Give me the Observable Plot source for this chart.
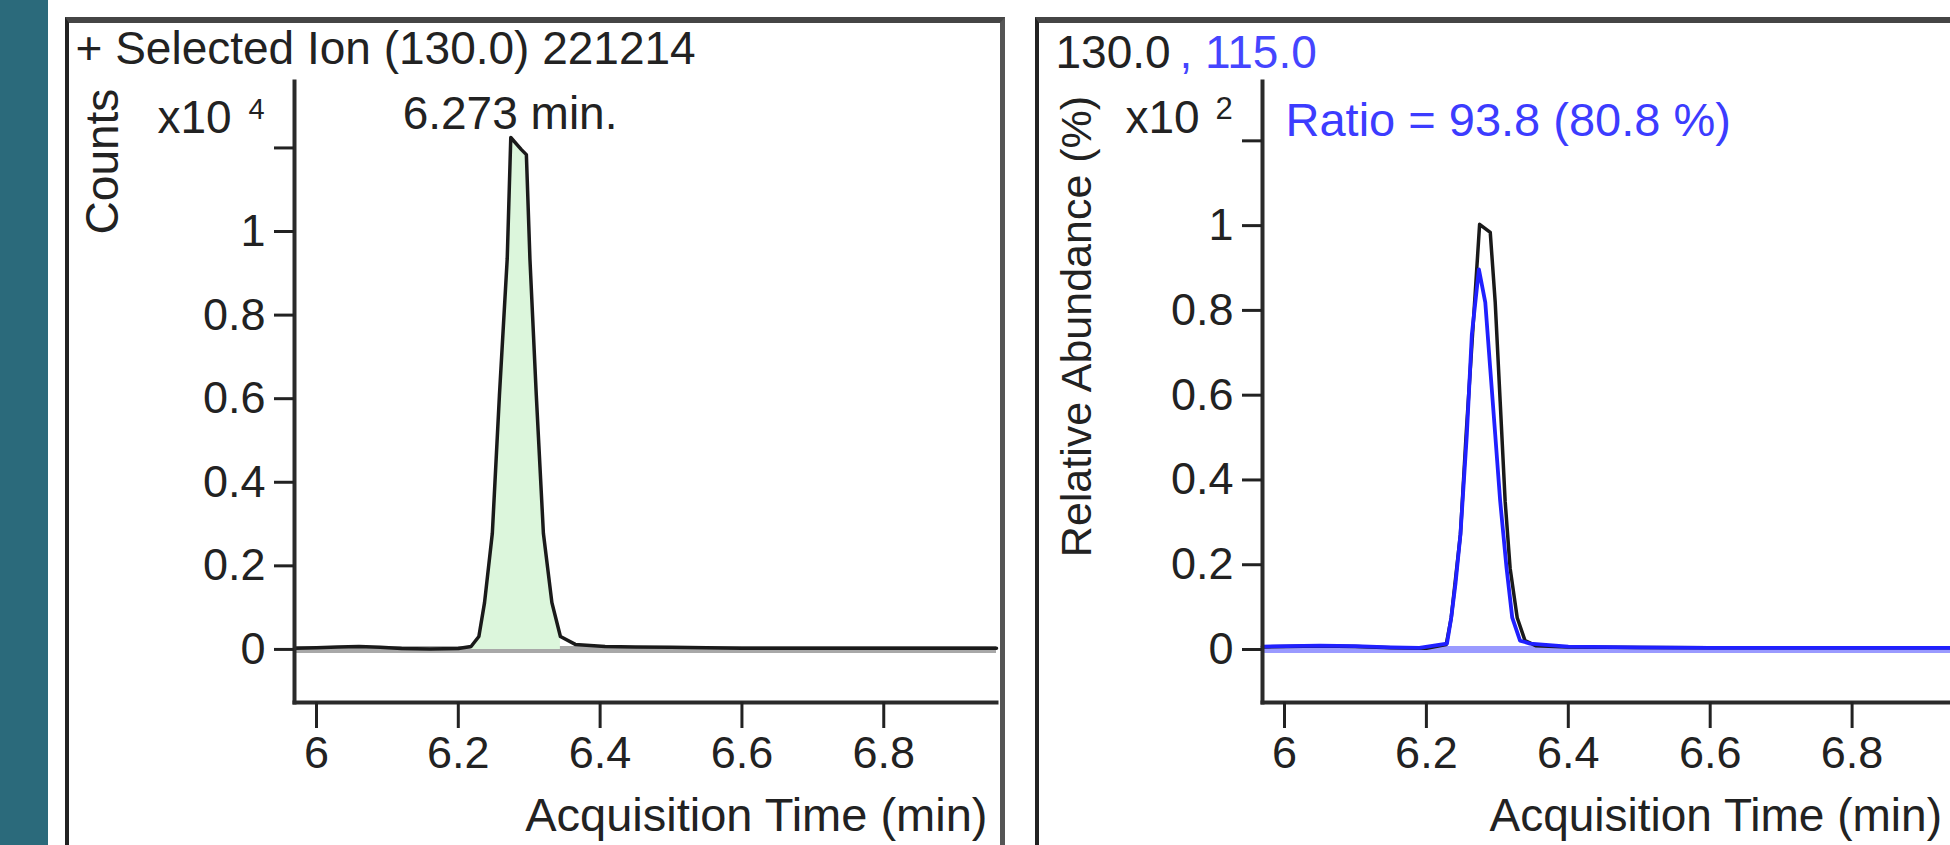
<!DOCTYPE html>
<html>
<head>
<meta charset="utf-8">
<script src="https://cdn.jsdelivr.net/npm/d3@7"></script>
<script src="https://cdn.jsdelivr.net/npm/@observablehq/plot@0.6"></script>
<style>
  html, body { margin: 0; padding: 0; background: #fff; }
  body { width: 1950px; height: 845px; overflow: hidden; position: relative; font-family: "Liberation Sans", Arial, sans-serif; }
  #bar { position: absolute; left: 0; top: 0; width: 48px; height: 845px; background: #2b6a7b; }
  .panel { position: absolute; top: 17px; height: 828px; box-sizing: border-box;
           border-top: 6px solid #454545; border-left: 4px solid #222; }
  #pL { left: 65px; width: 940px; border-right: 5px solid #555; }
  #pR { left: 1035px; width: 915px; }
  .panel svg { position: absolute; left: 0; top: 0; max-width: none !important; }
</style>
</head>
<body>
<div id="bar"></div>
<div class="panel" id="pL"></div>
<div class="panel" id="pR"></div>
<script>
// ---------- data ----------
// Left: selected ion 130.0 chromatogram (counts, x10^4)
const leftTime   = [5.969, 6.0, 6.03, 6.06, 6.09, 6.12, 6.16, 6.2, 6.218, 6.229, 6.237, 6.248, 6.258, 6.269, 6.274, 6.289, 6.296, 6.301, 6.31, 6.32, 6.332, 6.344, 6.365, 6.407, 6.45, 6.5, 6.55, 6.6, 6.7, 6.8, 6.9, 6.959];
const leftCounts = [0.003, 0.004, 0.006, 0.007, 0.005, 0.002, 0.001, 0.002, 0.007, 0.031, 0.112, 0.278, 0.608, 0.935, 1.225, 1.196, 1.184, 0.935, 0.608, 0.278, 0.112, 0.031, 0.012, 0.007, 0.006, 0.005, 0.004, 0.003, 0.003, 0.003, 0.003, 0.003];
const peakLimits = [6.218, 6.344];
const peakRT = [6.273];

// Right: target ion 130.0 (black) and qualifier 115.0 (blue), relative abundance x10^2 %
const targetTime = [5.969, 6.05, 6.1, 6.15, 6.2, 6.228, 6.235, 6.248, 6.256, 6.265, 6.275, 6.29, 6.297, 6.304, 6.311, 6.318, 6.328, 6.339, 6.354, 6.4, 6.5, 6.6, 6.7, 6.8, 6.9, 6.939];
const targetRel  = [0.006, 0.008, 0.007, 0.004, 0.003, 0.012, 0.075, 0.272, 0.507, 0.742, 1.003, 0.984, 0.819, 0.585, 0.350, 0.192, 0.075, 0.021, 0.009, 0.006, 0.005, 0.004, 0.004, 0.004, 0.004, 0.004];
const qualTime   = [5.969, 6.05, 6.1, 6.15, 6.19, 6.229, 6.235, 6.241, 6.248, 6.257, 6.264, 6.274, 6.283, 6.29, 6.297, 6.304, 6.313, 6.321, 6.332, 6.346, 6.4, 6.5, 6.6, 6.7, 6.8, 6.9, 6.939];
const qualRel    = [0.007, 0.009, 0.008, 0.005, 0.004, 0.014, 0.075, 0.155, 0.272, 0.507, 0.742, 0.897, 0.819, 0.662, 0.507, 0.350, 0.192, 0.075, 0.021, 0.014, 0.007, 0.005, 0.004, 0.004, 0.004, 0.004, 0.004];

// ticks
const xTicks = [6, 6.2, 6.4, 6.6, 6.8];
const yTicks = [0, 0.2, 0.4, 0.6, 0.8, 1, 1.2];
const yTickLabels = ["0", "0.2", "0.4", "0.6", "0.8", "1", ""];

// texts
const leftTitle = "+ Selected Ion (130.0) 221214";
const leftYLabel = "Counts";
const leftExpBase = "x10";
const leftExp = "4";
const peakLabel = "6.273 min.";
const xLabel = "Acquisition Time (min)";
const rightTitleA = "130.0";
const rightTitleB = ", 115.0";
const rightYLabel = "Relative Abundance (%)";
const rightExpBase = "x10";
const rightExp = "2";
const ratioLabel = "Ratio = 93.8 (80.8 %)";

// ---------- build ----------
const FONT = "'Liberation Sans', Arial, Helvetica, sans-serif";
const BLUE = "#2020ff";
const leftData = leftTime.map((t, i) => ({t, v: leftCounts[i]}));
const peakData = leftData.filter(d => d.t >= peakLimits[0] && d.t <= peakLimits[1]);
const targetData = targetTime.map((t, i) => ({t, v: targetRel[i]}));
const qualData = qualTime.map((t, i) => ({t, v: qualRel[i]}));
const yFmt = d => yTickLabels[yTicks.indexOf(d)];

function axes() {
  return [
    Plot.frame({anchor: "left", stroke: "#2a2a2a", strokeWidth: 4}),
    Plot.frame({anchor: "bottom", stroke: "#2a2a2a", strokeWidth: 4}),
    Plot.axisY({ticks: yTicks, tickFormat: yFmt, tickSize: 20, tickPadding: 9, fontSize: 45,
                stroke: "#222", fill: "#222", strokeWidth: 3, label: null}),
    Plot.axisX({ticks: xTicks, tickFormat: d => String(d), tickSize: 26, tickPadding: 8, fontSize: 45,
                stroke: "#222", fill: "#222", strokeWidth: 3, label: null})
  ];
}

// Left panel: svg origin at global (69, 23); frame x 294..996, y 81..702
const left = Plot.plot({
  width: 931, height: 822,
  marginLeft: 225, marginRight: 4, marginTop: 58, marginBottom: 143,
  x: {domain: [5.969, 6.959]},
  y: {domain: [-0.127, 1.359]},
  style: {fontFamily: FONT, fontSize: "45px", background: "transparent", color: "#222"},
  marks: [
    Plot.ruleY([0], {stroke: "#a8a8a8", strokeWidth: 7}),
    Plot.areaY(peakData, {x: "t", y: "v", fill: "#dcf6dc"}),
    Plot.lineY(leftData, {x: "t", y: "v", stroke: "#1a1a1a", strokeWidth: 3.5}),
    ...axes(),
    Plot.text([leftTitle], {frameAnchor: "top-left", dx: -219, dy: -18, textAnchor: "start", lineAnchor: "bottom", fontSize: 46, fill: "#222"}),
    Plot.text([leftYLabel], {frameAnchor: "top-left", dx: -177, dy: 80, rotate: -90, textAnchor: "middle", lineAnchor: "bottom", fontSize: 46, fill: "#222"}),
    Plot.text([leftExpBase], {frameAnchor: "top-left", dx: -137, dy: 51, textAnchor: "start", lineAnchor: "bottom", fontSize: 46, fill: "#222"}),
    Plot.text([leftExp], {frameAnchor: "top-left", dx: -46, dy: 37, textAnchor: "start", lineAnchor: "bottom", fontSize: 29, fill: "#222"}),
    Plot.text(peakRT, {x: d => d, frameAnchor: "top", dy: 47, textAnchor: "middle", lineAnchor: "bottom", text: () => peakLabel, fontSize: 46, fill: "#222"}),
    Plot.text([xLabel], {frameAnchor: "bottom-right", dx: -9, dy: 128, textAnchor: "end", lineAnchor: "bottom", fontSize: 47, fill: "#222"})
  ]
});
document.getElementById("pL").appendChild(left);

// Right panel: svg origin at global (1039, 23); frame x 1262..1950, y 81..702
const right = Plot.plot({
  width: 911, height: 822,
  marginLeft: 223, marginRight: 0, marginTop: 58, marginBottom: 143,
  x: {domain: [5.969, 6.9387]},
  y: {domain: [-0.125, 1.340]},
  style: {fontFamily: FONT, fontSize: "45px", background: "transparent", color: "#222"},
  marks: [
    Plot.ruleY([0], {stroke: "#9a9aff", strokeWidth: 7}),
    Plot.lineY(targetData, {x: "t", y: "v", stroke: "#1a1a1a", strokeWidth: 3.5}),
    Plot.lineY(qualData, {x: "t", y: "v", stroke: BLUE, strokeWidth: 3.8}),
    ...axes(),
    Plot.text([rightTitleA], {frameAnchor: "top-left", dx: -207, dy: -14, textAnchor: "start", lineAnchor: "bottom", fontSize: 46, fill: "#222"}),
    Plot.text([rightTitleB], {frameAnchor: "top-left", dx: -83, dy: -14, textAnchor: "start", lineAnchor: "bottom", fontSize: 46, fill: "#4545ff"}),
    Plot.text([rightYLabel], {frameAnchor: "top-left", dx: -172, dy: 245, rotate: -90, textAnchor: "middle", lineAnchor: "bottom", fontSize: 43, fill: "#222"}),
    Plot.text([rightExpBase], {frameAnchor: "top-left", dx: -137, dy: 51, textAnchor: "start", lineAnchor: "bottom", fontSize: 46, fill: "#222"}),
    Plot.text([rightExp], {frameAnchor: "top-left", dx: -47, dy: 37, textAnchor: "start", lineAnchor: "bottom", fontSize: 31, fill: "#222"}),
    Plot.text([ratioLabel], {frameAnchor: "top-left", dx: 23, dy: 54, textAnchor: "start", lineAnchor: "bottom", fontSize: 47, fill: "#3c3cff"}),
    Plot.text([xLabel], {frameAnchor: "bottom-left", dx: 227, dy: 128, textAnchor: "start", lineAnchor: "bottom", fontSize: 46, fill: "#222"})
  ]
});
document.getElementById("pR").appendChild(right);
</script>
</body>
</html>
